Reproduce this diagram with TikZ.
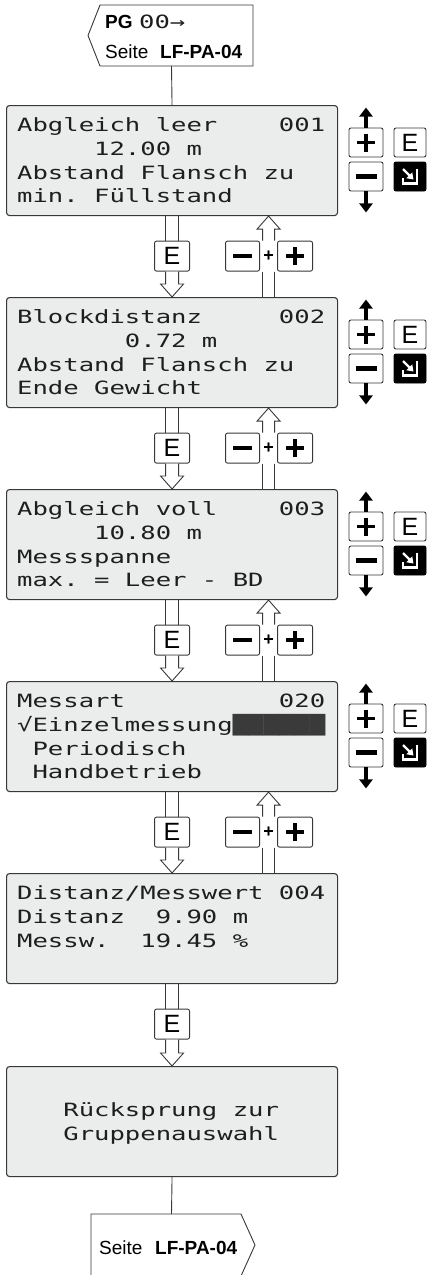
\documentclass[tikz,border=0pt]{standalone}
\usepackage{fontspec}
\setmainfont{Liberation Sans}
\newfontfamily\lcdfont[FakeStretch=1.4]{DejaVu Sans Mono}
\usetikzlibrary{arrows.meta,calc}
\definecolor{lcdfill}{HTML}{EBEDED}
\definecolor{frame}{HTML}{383838}
\definecolor{lcdtext}{HTML}{1E1E1E}
\definecolor{blockc}{HTML}{3A3A3A}

\newcommand{\lcdscreen}[7]{% name, top, l1..l4, xoffset
  \node[lcd] (#1) at (6,#2) {};
  \node[lcdtxt] (#1a) at ($(#1.north west)+(#7,26.5)$) {#3};
  \node[lcdtxt] (#1b) at ($(#1.north west)+(#7,50.3)$) {#4};
  \node[lcdtxt] (#1c) at ($(#1.north west)+(#7,74.1)$) {#5};
  \node[lcdtxt] (#1d) at ($(#1.north west)+(#7,97.9)$) {#6};
}

\newcommand{\keycol}[2]{% box name, id
  \node[keybox, minimum width=34pt] (kp#2) at ($(#1.north west)+(360,37.5)$) {};
  \node[keybox, minimum width=32pt, font=\fontsize{25}{25}\selectfont] (ke#2) at ($(#1.north west)+(404,37.5)$) {E};
  \node[keybox, minimum width=34pt] (km#2) at ($(#1.north west)+(360,71.5)$) {};
  \node[keybox, minimum width=32pt, fill=black, draw=black] (kn#2) at ($(#1.north west)+(404,71.5)$) {};
  \draw[keyarrow] (kp#2.north) -- ++(0,-20);
  \draw[keyarrow] (km#2.south) -- ++(0,21);
  \draw[line width=3.6pt] ($(kp#2)+(-9,0)$) -- ($(kp#2)+(9,0)$) ($(kp#2)+(0,-9)$) -- ($(kp#2)+(0,9)$);
  \draw[line width=4.2pt] ($(km#2)+(-10.5,0)$) -- ($(km#2)+(10.5,0)$);
  \draw[white, line width=2.6pt] ($(kn#2)+(7,-8)$) -- ($(kn#2)+(7,7)$) -- ($(kn#2)+(-7,7)$) -- ($(kn#2)+(-7,1)$);
  \draw[white, line width=2.4pt, -{Triangle[width=8pt,length=6pt]}] ($(kn#2)+(-7,-7.5)$) -- ($(kn#2)+(3.5,3)$);
}

\newcommand{\econn}[3]{% upper, lower, id
  \node[ekey] (e#3) at ($(#1.south)+(0,40)$) {E};
  \draw[conn] ($(#1.south)+(-6.5,0)$) -- ($(e#3.north)+(-6.5,0)$);
  \draw[conn] ($(#1.south)+(6.5,0)$) -- ($(e#3.north)+(6.5,0)$);
  \draw[conn, fill=white] ($(e#3.south)+(-6.5,0)$) -- ($(#2.north)+(-6.5,-13)$) -- ($(#2.north)+(-11.5,-13)$) -- (#2.north) -- ($(#2.north)+(11.5,-13)$) -- ($(#2.north)+(6.5,-13)$) -- ($(e#3.south)+(6.5,0)$);
}

\newcommand{\mpconn}[3]{% upper, lower, id
  \node[keybox, minimum width=34pt, minimum height=30pt] (mi#3) at ($(#1.south)+(70.5,40)$) {};
  \node[keybox, minimum width=35pt, minimum height=30pt] (pl#3) at ($(#1.south)+(123,40)$) {};
  \coordinate (g#3) at ($(mi#3.east)!0.5!(pl#3.west)$);
  \node[font=\bfseries\fontsize{18}{18}\selectfont, inner sep=0] (pp#3) at (g#3) {+};
  \draw[line width=4.6pt] ($(mi#3)+(-9.5,0)$) -- ($(mi#3)+(9.5,0)$);
  \draw[line width=3.8pt] ($(pl#3)+(-9,0)$) -- ($(pl#3)+(9,0)$) ($(pl#3)+(0,-9)$) -- ($(pl#3)+(0,9)$);
  \coordinate (ut#3) at (g#3 |- #1.south);
  \coordinate (ub#3) at (g#3 |- mi#3.north);
  \coordinate (ls#3) at (g#3 |- mi#3.south);
  \coordinate (lt#3) at (g#3 |- #2.north);
  \draw[conn, fill=white] ($(ub#3)+(-6,0)$) -- ($(ut#3)+(-6,13)$) -- ($(ut#3)+(-11.5,13)$) -- (ut#3) -- ($(ut#3)+(11.5,13)$) -- ($(ut#3)+(6,13)$) -- ($(ub#3)+(6,0)$);
  \draw[conn] ($(ls#3)+(-6,0)$) -- ($(lt#3)+(-6,0)$);
  \draw[conn] ($(ls#3)+(6,0)$) -- ($(lt#3)+(6,0)$);
}

\begin{document}
\begin{tikzpicture}[x=1pt,y=-1pt,
  lcd/.style={draw=frame, fill=lcdfill, line width=1.1pt, rounded corners=3pt,
    minimum width=331pt, minimum height=110pt, anchor=north west, inner sep=0},
  lcdtxt/.style={anchor=base west, inner sep=0, text=lcdtext,
    font={\lcdfont\fontsize{18.27pt}{20pt}\selectfont\frenchspacing}},
  keybox/.style={draw=frame, fill=white, line width=0.9pt, rounded corners=2pt,
    minimum height=29pt, inner sep=0},
  ekey/.style={keybox, minimum width=35pt, minimum height=30pt, font=\fontsize{25}{25}\selectfont},
  keyarrow/.style={line width=3.4pt, -{Triangle[width=13pt,length=9pt]}},
  conn/.style={draw=frame, line width=0.9pt},
  tag/.style={draw=frame, fill=white, line width=0.9pt},
  tagtxt/.style={anchor=base west, inner sep=0, font=\fontsize{19}{19}\selectfont},
]
\useasboundingbox (0,0) rectangle (427,1275);

% top tag
\draw[tag] (100,5) -- (253,5) -- (253,66) -- (100,66) -- (88,35.5) -- cycle;
\node[tagtxt, font=\bfseries\fontsize{19}{19}\selectfont] (tpg) at (105,28) {PG};
\node[lcdtxt] (tpn) at (139,28) {00→};
\node[tagtxt] (ts) at (105,58) {Seite};
\node[tagtxt, font=\bfseries\fontsize{19}{19}\selectfont] (tl) at (160,58) {LF-PA-04};
\coordinate (tt) at (171.5,66);

% screens
\lcdscreen{b1}{105}{Abgleich leer~~~~001}{~~~~~12.00 m}{Abstand Flansch zu}{min. Füllstand}{11}
\lcdscreen{b2}{297}{Blockdistanz~~~~~002}{~~~~~~~0.72 m}{Abstand Flansch zu}{Ende Gewicht}{11}
\lcdscreen{b3}{489}{Abgleich voll~~~~003}{~~~~~10.80 m}{Messspanne}{max. = Leer - BD}{11}
\lcdscreen{b4}{681}{Messart~~~~~~~~~~020}{√Einzelmessung{\color{blockc}██████}}{~Periodisch}{~Handbetrieb}{11}
\lcdscreen{b5}{873}{Distanz/Messwert 004}{Distanz~~9.90 m}{Messw.~~19.45 \%}{}{11}
\node[lcd] (b6) at (6,1066) {};
\node[lcdtxt] (b6a) at ($(b6.north west)+(11,50.3)$) {~~~Rücksprung zur};
\node[lcdtxt] (b6b) at ($(b6.north west)+(11,74.1)$) {~~~Gruppenauswahl};

\draw[conn] (tt) -- (b1.north);

% key columns
\keycol{b1}{1}
\keycol{b2}{2}
\keycol{b3}{3}
\keycol{b4}{4}

% connectors
\econn{b1}{b2}{1}
\mpconn{b1}{b2}{1}
\econn{b2}{b3}{2}
\mpconn{b2}{b3}{2}
\econn{b3}{b4}{3}
\mpconn{b3}{b4}{3}
\econn{b4}{b5}{4}
\mpconn{b4}{b5}{4}
\econn{b5}{b6}{5}

% bottom tag
\coordinate (bt) at (171.5,1214);
\draw[conn] (b6.south) -- (bt);
\draw[tag] (91,1214) -- (241,1214) -- (255,1245) -- (241,1276) -- (91,1276) -- cycle;
\node[tagtxt] (bs) at (99,1254) {Seite};
\node[tagtxt, font=\bfseries\fontsize{19}{19}\selectfont] (bl) at (155,1254) {LF-PA-04};
\end{tikzpicture}
\end{document}
